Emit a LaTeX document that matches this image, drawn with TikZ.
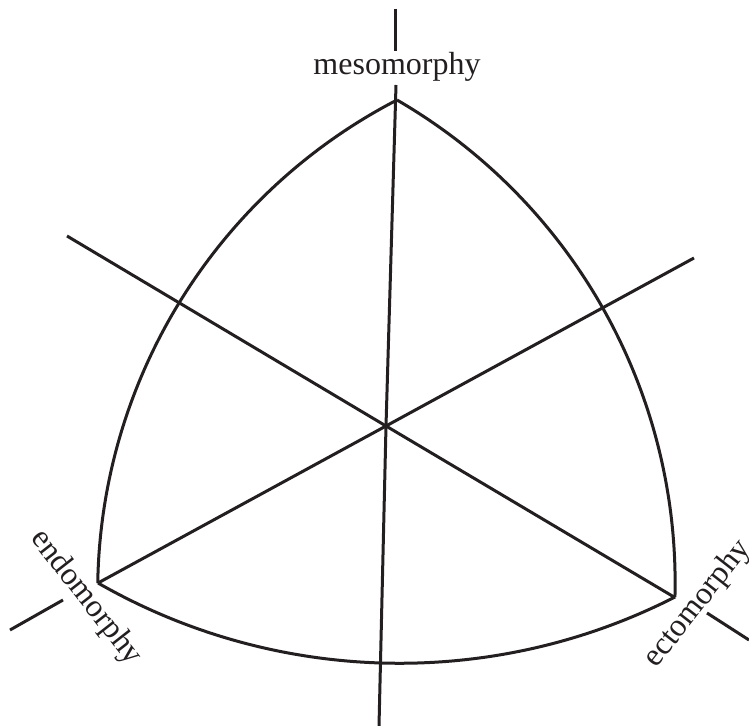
\documentclass[tikz,border=0pt]{standalone}
\usepackage{fontspec}
\setmainfont{Liberation Serif}
\definecolor{inkgrey}{HTML}{231F20}
\begin{document}
\begin{tikzpicture}[x=0.5pt,y=-0.5pt,
    axis/.style={draw=inkgrey,line width=1.5pt},
    lbl/.style={inner sep=0pt,outer sep=0pt,text=inkgrey,
      font=\fontsize{16}{19}\selectfont}]
  \path[use as bounding box] (0,0) rectangle (749,726);

  % corners of the chart and its centre
  \coordinate (meso) at (397,100);
  \coordinate (endo) at (98,583);
  \coordinate (ecto) at (674,597);
  \coordinate (mid) at (386,426);

  % free ends of the three axes
  \coordinate (mesostubA) at (395,9);
  \coordinate (mesostubB) at (395,51);
  \coordinate (mesotip) at (396,85);
  \coordinate (base) at (379,726);
  \coordinate (ulend) at (67,236);
  \coordinate (urend) at (694,258);
  \coordinate (endostubA) at (63,600);
  \coordinate (endostubB) at (10,630);
  \coordinate (ectostubA) at (707,613);
  \coordinate (ectostubB) at (749,640);

  % outline: three circular arcs between the corners
  \draw[axis] (meso) arc[start angle=242.63,end angle=180.9,radius=554];
  \draw[axis] (endo) arc[start angle=119.83,end angle=62.94,radius=606];
  \draw[axis] (meso) arc[start angle=-59.88,end angle=1.45,radius=558.3];

  % axes through the centre
  \draw[axis] (mesostubA) -- (mesostubB);
  \draw[axis] (mesotip) -- (mid) -- (base);
  \draw[axis] (ulend) -- (mid) -- (ecto);
  \draw[axis] (urend) -- (mid) -- (endo);
  \draw[axis] (endostubA) -- (endostubB);
  \draw[axis] (ectostubA) -- (ectostubB);

  % labels
  \node[lbl] (mesolbl) at (397,67) {mesomorphy};
  \node[lbl,rotate=-52] (endolbl) at (86,598) {endomorphy};
  \node[lbl,rotate=52] (ectolbl) at (698,604) {ectomorphy};
\end{tikzpicture}
\end{document}
